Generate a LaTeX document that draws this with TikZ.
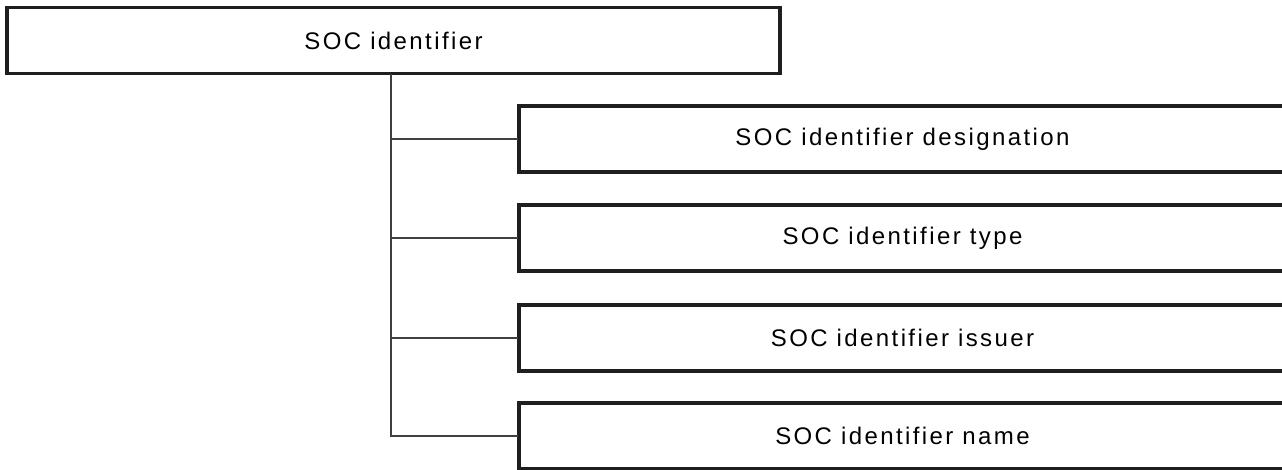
\documentclass[tikz,border=0pt]{standalone}
\usepackage{fontspec}
\setmainfont{Liberation Sans}[LetterSpace=10]
\usepackage{tikz}
\usetikzlibrary{calc}

\begin{document}
\begin{tikzpicture}[x=1pt, y=-1pt, line cap=rect,
  box/.style={draw=black!88, line width=3.4pt, minimum height=66pt,
    inner sep=0pt, font=\fontsize{24}{28}\selectfont},
  link/.style={draw=black!75, line width=1.6pt}]
\useasboundingbox (0,0) rectangle (1282,470);
% Boxes
\node[box, minimum width=773pt] (soc) at (393.5,40.5) {SOC identifier};
\node[box, minimum width=767pt] (desig)  at (902.5,139) {SOC identifier designation};
\node[box, minimum width=767pt] (type)   at (902.5,238) {SOC identifier type};
\node[box, minimum width=767pt] (issuer) at (902.5,338) {SOC identifier issuer};
\node[box, minimum width=767pt] (name)   at (902.5,436) {SOC identifier name};
% Trunk
\coordinate (T) at (391,0);
\draw[link] (soc.south -| T) |- (name.west);
% Branches
\foreach \b in {desig,type,issuer}
  \draw[link] (T |- \b.west) -- (\b.west);
\end{tikzpicture}
\end{document}
